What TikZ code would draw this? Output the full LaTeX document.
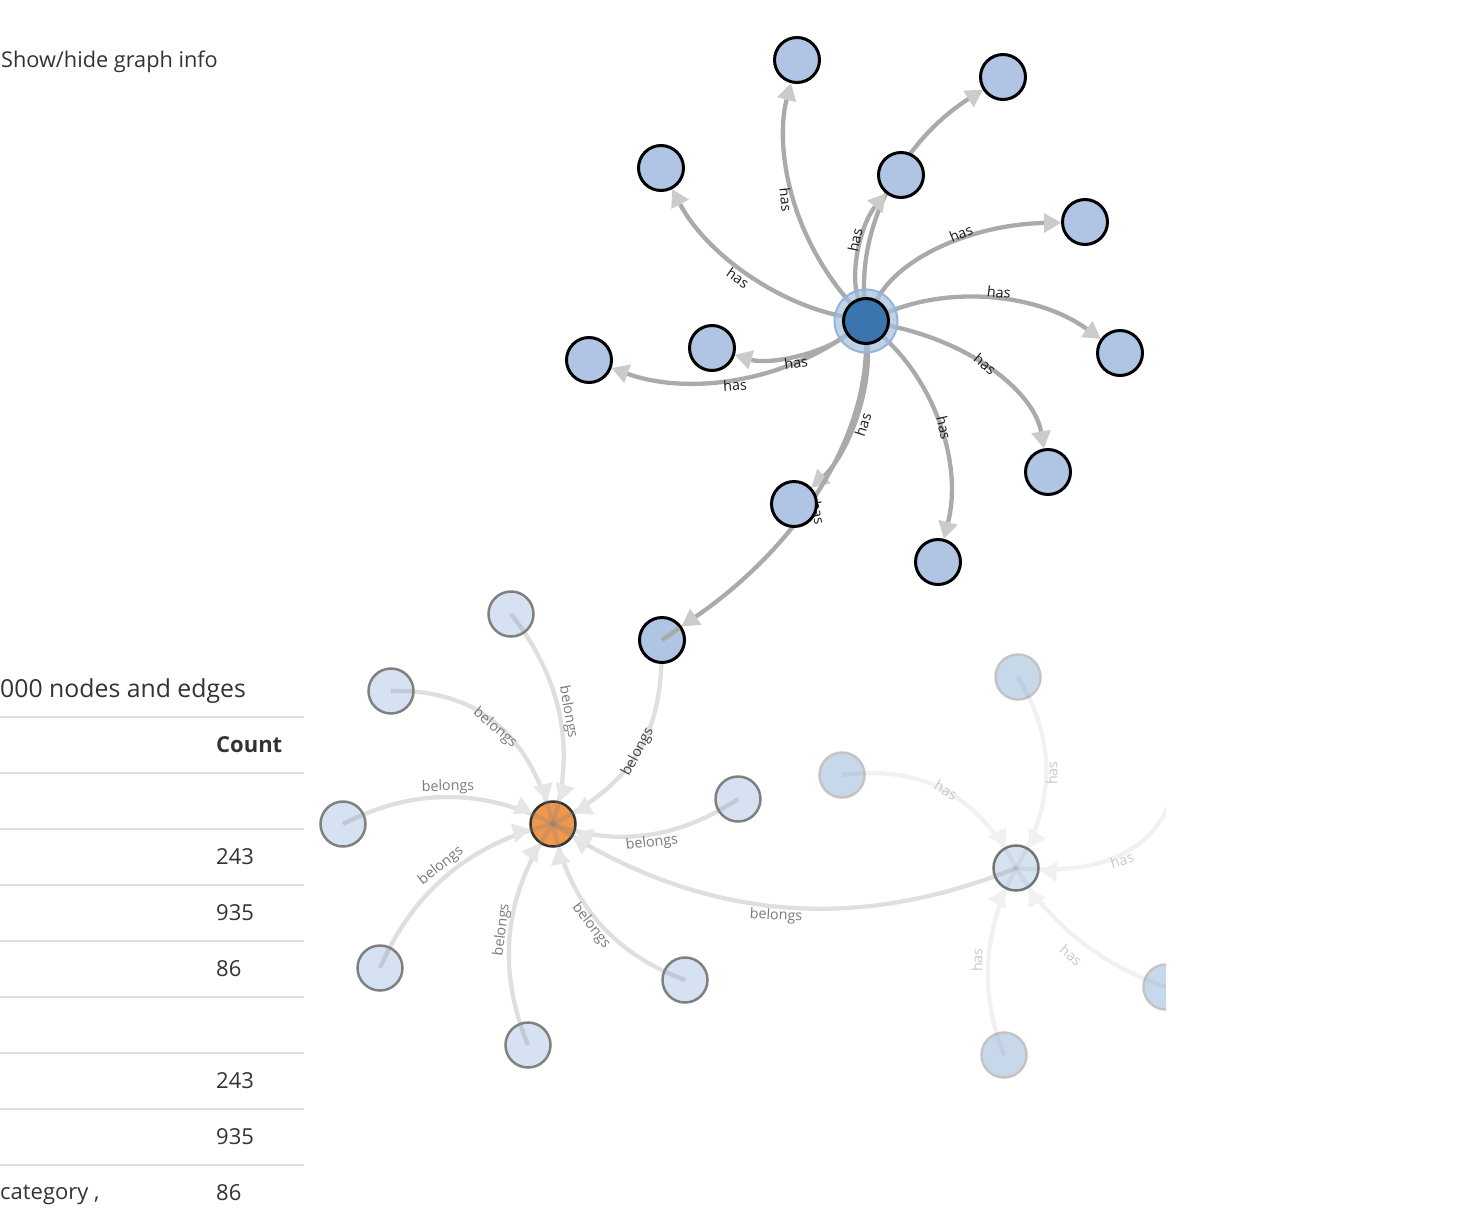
\documentclass[tikz,border=0pt]{standalone}
\usepackage{fontspec}
\setmainfont{Open Sans}
\usetikzlibrary{arrows.meta,calc}
\pgfdeclarelayer{fadenodes}
\pgfdeclarelayer{fadeedges}
\pgfdeclarelayer{topedges}
\pgfsetlayers{fadenodes,fadeedges,topedges,main}
\definecolor{topfill}{HTML}{B0C4E4}
\definecolor{cfill}{HTML}{3A75B0}
\definecolor{halofill}{HTML}{A2BFDE}
\definecolor{halodraw}{HTML}{96B4D7}
\definecolor{edgegray}{HTML}{AAAAAA}
\definecolor{arrowgray}{HTML}{CBCBCB}
\definecolor{fadefill}{HTML}{D6E2F2}
\definecolor{fadedraw}{HTML}{808080}
\definecolor{orangefill}{HTML}{F0974E}
\definecolor{odraw}{HTML}{333333}
\definecolor{rdraw}{HTML}{747474}
\definecolor{farfill}{HTML}{C8D8EB}
\definecolor{fardraw}{HTML}{C4C4C4}
\definecolor{barrowc}{HTML}{E6E6E6}
\definecolor{farrowc}{HTML}{F1F1F1}
\definecolor{txt}{HTML}{333333}
\definecolor{toptext}{HTML}{1A1A1A}
\definecolor{belongstext}{HTML}{7A7A7A}
\definecolor{belongsdark}{HTML}{444444}
\definecolor{fartext}{HTML}{C8C8C8}
\definecolor{rulec}{HTML}{DCDCDC}
% quadratic-like connector between two nodes, Q = quadratic control point
\newcommand\qedge[4]{%
  \draw[#1] (#2) .. controls ($(#2.center)!0.6667!#4$) and ($(#3.center)!0.6667!#4$) .. (#3);}
% faded connector: centre to centre line, arrow tip at target border
\newcommand\fadeedge[5]{%
  \draw[#1] (#3.center) .. controls ($(#3.center)!0.6667!#5$) and ($(#4.center)!0.6667!#5$) .. (#4.center);
  \draw[#2] ($(#4.center)!41pt!#5$) -- ($(#4.center)!23.8pt!#5$);}
\begin{document}
\begin{tikzpicture}[x=1pt,y=-1pt,
  topnode/.style={circle, minimum size=45pt, inner sep=0pt, fill=topfill, draw=black, line width=3pt},
  cnode/.style={topnode, fill=cfill},
  halo/.style={circle, minimum size=63pt, inner sep=0pt, fill=halofill, fill opacity=0.7, draw=halodraw, line width=2pt},
  fnode/.style={circle, minimum size=45pt, inner sep=0pt, fill=fadefill, draw=fadedraw, line width=2.5pt},
  onode/.style={fnode, fill=orangefill, draw=odraw},
  rnode/.style={fnode, draw=rdraw},
  farnode/.style={fnode, fill=farfill, draw=fardraw},
  hasedge/.style={draw=edgegray, line width=4.3pt, -{Triangle[length=17pt,width=20pt,line width=0pt,color=arrowgray]}},
  bline/.style={draw=black!50, draw opacity=0.25, line width=4.3pt},
  barrow/.style={draw=barrowc, line width=0.1pt, -{Triangle[length=17pt,width=20pt,line width=0pt,color=barrowc]}},
  farline/.style={draw=black!50, draw opacity=0.11, line width=4.3pt},
  fararrow/.style={draw=farrowc, line width=0.1pt, -{Triangle[length=17pt,width=20pt,line width=0pt,color=farrowc]}},
  lbl/.style={font=\fontsize{14.3}{16}\selectfont, inner sep=0pt},
  toplbl/.style={lbl, text=toptext},
  blbl/.style={lbl, text=belongstext},
  farlbl/.style={lbl, text=fartext},
  uitext/.style={inner sep=0pt, anchor=base west, text=txt, font=\fontsize{22}{26}\selectfont},
]
\useasboundingbox (0,0) rectangle (1468,1232);

% ---------- faded nodes ----------
\begin{pgfonlayer}{fadenodes}
\begin{scope}
\clip (0,0) rectangle (1166,1232);
\node[onode] (O) at (553,824) {};
\node[fnode] (a1) at (511,614) {};
\node[fnode] (a2) at (391,691) {};
\node[fnode] (a3) at (343,824) {};
\node[fnode] (a4) at (380,968) {};
\node[fnode] (a5) at (528,1045) {};
\node[fnode] (a6) at (685,980) {};
\node[fnode] (a7) at (738,799) {};
\node[rnode] (R) at (1016,868) {};
\node[farnode] (b1) at (1018,677) {};
\node[farnode] (b2) at (842,775) {};
\node[farnode] (b3) at (1166,987) {};
\node[farnode] (b4) at (1004,1055) {};
\coordinate (b5) at (1180,760);
\end{scope}
\end{pgfonlayer}

% ---------- top nodes ----------
\coordinate (c0) at (866,321);
\node[halo] (Ch) at (c0) {};
\node[cnode] (C) at (c0) {};
\node[topnode] (n1) at (797,60) {};
\node[topnode] (n2) at (1003,77) {};
\node[topnode] (n3) at (661,168) {};
\node[topnode] (n4) at (901,175) {};
\node[topnode] (n5) at (1085,222) {};
\node[topnode] (n6) at (1120,353) {};
\node[topnode] (n7) at (712,348) {};
\node[topnode] (n8) at (589,360) {};
\node[topnode] (n9) at (1048,472) {};
\node[topnode] (n10) at (938,562) {};
\node[topnode] (n11) at (794,504) {};
\node[topnode] (n12) at (662,640) {};
\draw[draw=edgegray, line width=4.3pt] (n12.center) -- ($(n12.center)!21pt!(866,499)$);

% ---------- faded edges ----------
\begin{pgfonlayer}{fadeedges}
\begin{scope}
\clip (0,0) rectangle (1166,1232);
\fadeedge{bline}{barrow}{a1}{O}{(587.5,711.5)}
\fadeedge{bline}{barrow}{a2}{O}{(518.5,687.8)}
\fadeedge{bline}{barrow}{a3}{O}{(448,770)}
\fadeedge{bline}{barrow}{a4}{O}{(429.8,852.5)}
\fadeedge{bline}{barrow}{a5}{O}{(479.8,927.8)}
\fadeedge{bline}{barrow}{a6}{O}{(575.5,939.5)}
\fadeedge{bline}{barrow}{a7}{O}{(647.8,858.8)}
\draw[bline] (n12.center) .. controls (662,715) and (650,775) .. (O.center);
\draw[barrow] ($(O.center)!41pt!(650,775)$) -- ($(O.center)!23.8pt!(650,775)$);
\fadeedge{bline}{barrow}{R}{O}{(771.8,967.5)}
\fadeedge{farline}{fararrow}{b1}{R}{(1075.5,772)}
\fadeedge{farline}{fararrow}{b2}{R}{(960.5,759.3)}
\fadeedge{farline}{fararrow}{b3}{R}{(1068.5,953.8)}
\fadeedge{farline}{fararrow}{b4}{R}{(966.5,960.8)}
\draw[farline] (b5) .. controls ($(b5)!0.6667!(1168,882)$) and ($(R.center)!0.6667!(1168,882)$) .. (R.center);
\draw[fararrow] ($(R.center)!41pt!(1168,882)$) -- ($(R.center)!23.8pt!(1168,882)$);

\node[blbl, rotate=-80] at (568,712) {belongs};
\node[blbl, rotate=-40] at (495,728) {belongs};
\node[blbl, rotate=1] at (448,787) {belongs};
\node[blbl, rotate=38] at (441,866) {belongs};
\node[blbl, rotate=83] at (502,930) {belongs};
\node[blbl, rotate=-52] at (591,926) {belongs};
\node[blbl, rotate=7] at (652,843) {belongs};
\node[lbl, text=belongsdark, rotate=62] at (638,752) {belongs};
\node[blbl, rotate=-3] at (776,916) {belongs};
\node[farlbl, rotate=90] at (1052,773) {has};
\node[farlbl, rotate=-30] at (946,790) {has};
\node[farlbl, rotate=-40] at (1071,955) {has};
\node[farlbl, rotate=90] at (977,960) {has};
\node[farlbl, rotate=18] at (1122,860) {has};
\end{scope}
\end{pgfonlayer}

% ---------- top edges ----------
\begin{pgfonlayer}{topedges}
\draw[hasedge] (C) .. controls (785,228) and (776,140) .. (n1);
\qedge{hasedge}{C}{n2}{(856,170.5)}
\qedge{hasedge}{C}{n4}{(841,248)}
\qedge{hasedge}{C}{n5}{(915,226)}
\qedge{hasedge}{C}{n6}{(1000.5,266.5)}
\qedge{hasedge}{C}{n9}{(1027.5,354)}
\qedge{hasedge}{C}{n10}{(974,420)}
\qedge{hasedge}{C}{n11}{(873.5,430)}
\qedge{hasedge}{C}{n12}{(866,499)}
\qedge{hasedge}{C}{n7}{(795,373)}
\qedge{hasedge}{C}{n8}{(737,413)}
\qedge{hasedge}{C}{n3}{(727,293)}
\node[toplbl, rotate=-80] at (818,513) {has};
\end{pgfonlayer}

\node[toplbl, rotate=-84] at (786,200) {has};
\node[toplbl, rotate=78] at (855,240) {has};
\node[toplbl, rotate=22] at (961,233) {has};
\node[toplbl, rotate=-6] at (999,292) {has};
\node[toplbl, rotate=-40] at (985,364) {has};
\node[toplbl, rotate=-78] at (944,428) {has};
\node[toplbl, rotate=72] at (863,425) {has};
\node[toplbl, rotate=8] at (796,363) {has};
\node[toplbl, rotate=4] at (735,385) {has};
\node[toplbl, rotate=-35] at (738,278) {has};

% ---------- info panel ----------
\node[uitext, font=\fontsize{21.7}{26}\selectfont] (title) at (1,67) {Show/hide graph info};
\node[uitext, font=\fontsize{24.8}{28}\selectfont] (sub) at (0,697) {000 nodes and edges};
\foreach \yy in {717,773,829,885,941,997,1053,1109,1165}
  \draw[rulec, line width=2pt] (0,\yy) -- (304,\yy);
\node[uitext, font=\fontsize{22}{26}\selectfont\bfseries] (hcount) at (216,752) {Count};
\node[uitext] (v1) at (216,864) {243};
\node[uitext] (v2) at (216,920) {935};
\node[uitext] (v3) at (216,976) {86};
\node[uitext] (v4) at (216,1088) {243};
\node[uitext] (v5) at (216,1144) {935};
\node[uitext] (cat) at (0,1199) {category ,};
\node[uitext] (v6) at (216,1200) {86};
\end{tikzpicture}
\end{document}
